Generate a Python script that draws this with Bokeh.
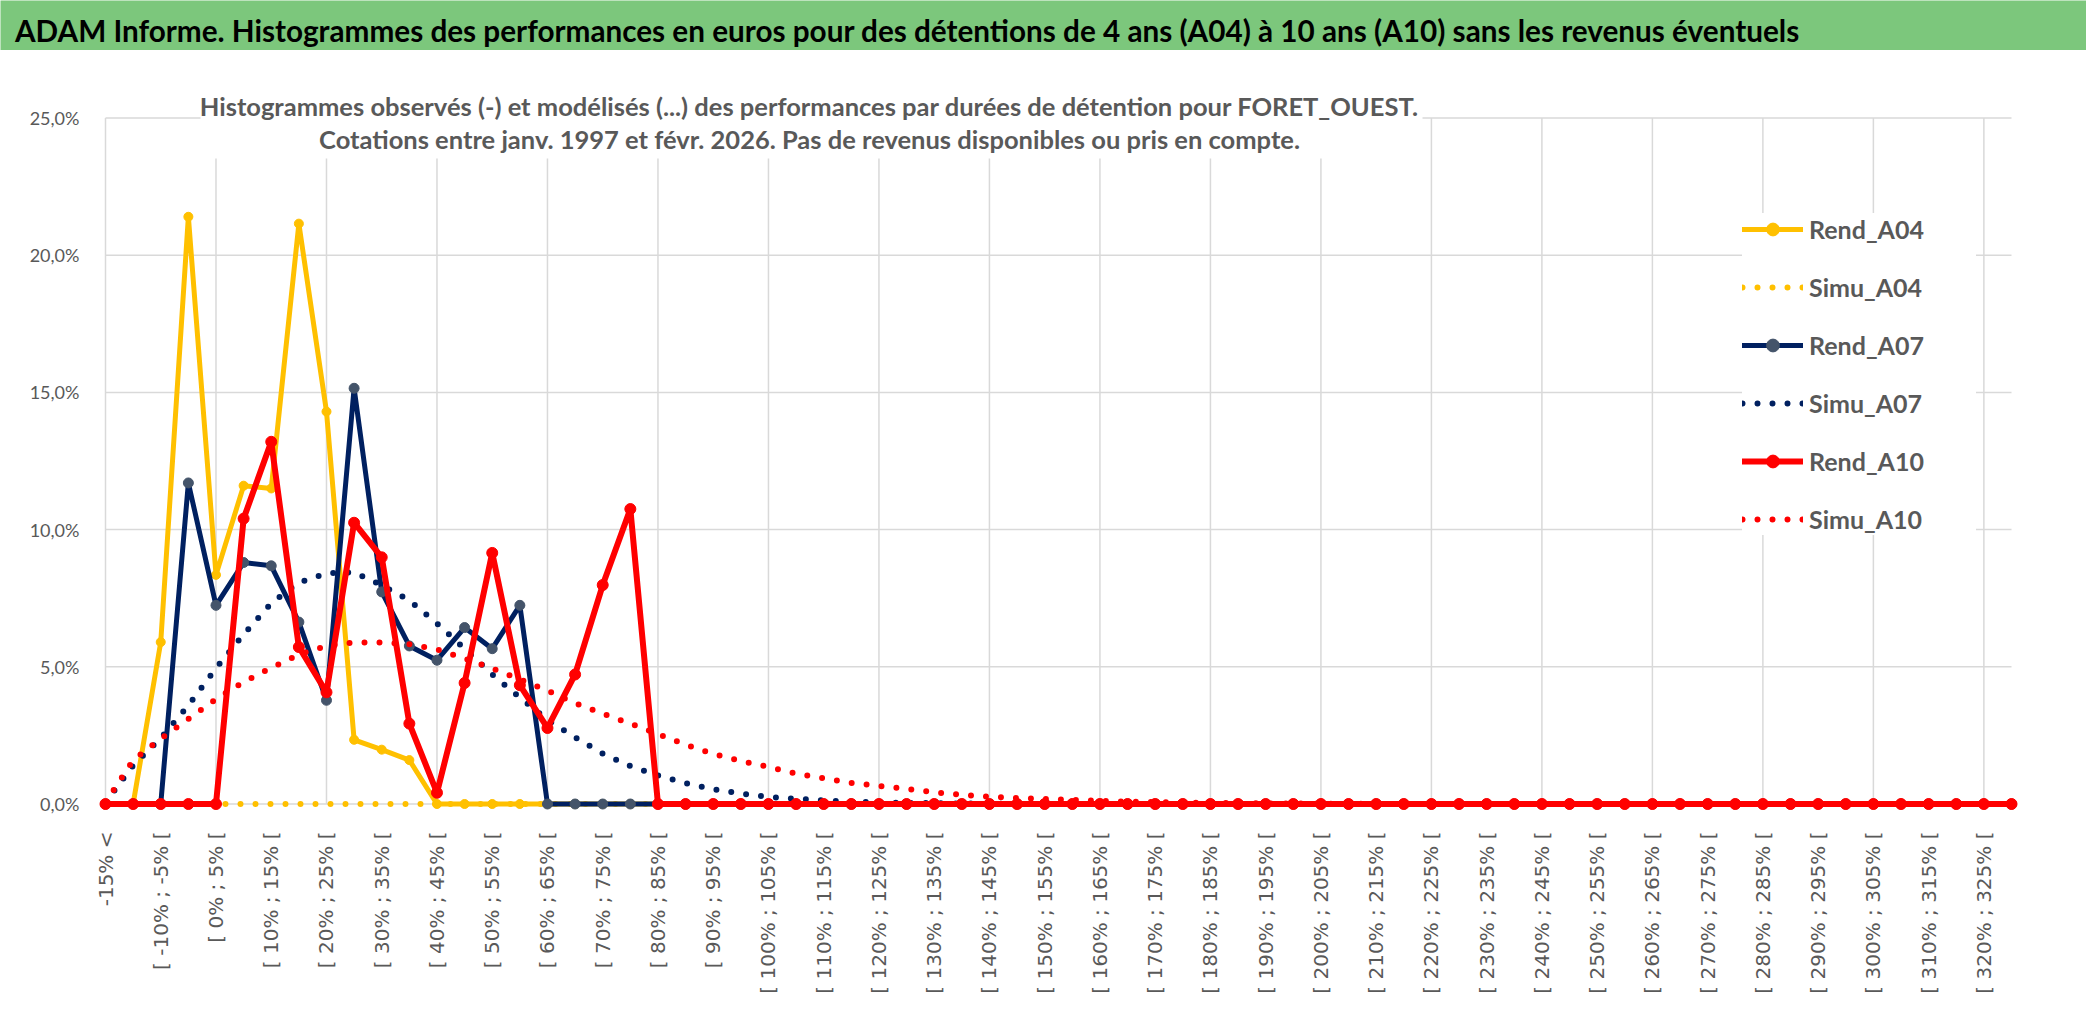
import math
from bokeh.plotting import figure
from bokeh.layouts import column
from bokeh.models import Range1d, FixedTicker, Label
from bokeh.embed import file_html
from bokeh.resources import INLINE

# ---------------- data ----------------
TITLE = ("ADAM Informe. Histogrammes des performances en euros pour des détentions "
         "de 4 ans (A04) à 10 ans (A10) sans les revenus éventuels")
SUB1 = ("Histogrammes observés (-) et modélisés (...) des performances par durées "
        "de détention pour FORET_OUEST.")
SUB2 = "Cotations entre janv. 1997 et févr. 2026. Pas de revenus disponibles ou pris en compte."

categories = ["-15% <"] + [f"[ {5 * (k - 4)}% ; {5 * (k - 3)}% [" for k in range(1, 70)]

y_ticks = [0, 5, 10, 15, 20, 25]
y_tick_labels = ["0,0%", "5,0%", "10,0%", "15,0%", "20,0%", "25,0%"]

rend_a04 = [0.0, 0.0, 5.9, 21.4, 8.35, 11.6, 11.5, 21.15, 14.3, 2.34,
            1.98, 1.6, 0.0, 0.0, 0.0, 0.0, 0.0, 0.0, 0.0, 0.0,
            0.0, 0.0, 0.0, 0.0, 0.0, 0.0, 0.0, 0.0, 0.0, 0.0,
            0.0, 0.0, 0.0, 0.0, 0.0, 0.0, 0.0, 0.0, 0.0, 0.0,
            0.0, 0.0, 0.0, 0.0, 0.0, 0.0, 0.0, 0.0, 0.0, 0.0,
            0.0, 0.0, 0.0, 0.0, 0.0, 0.0, 0.0, 0.0, 0.0, 0.0,
            0.0, 0.0, 0.0, 0.0, 0.0, 0.0, 0.0, 0.0, 0.0, 0.0]

simu_a04 = [0.0, 0.0, 0.0, 0.0, 0.0, 0.0, 0.0, 0.0, 0.0, 0.0,
            0.0, 0.0, 0.0, 0.0, 0.0, 0.0, 0.0, 0.0, 0.0, 0.0,
            0.0, 0.0, 0.0, 0.0, 0.0, 0.0, 0.0, 0.0, 0.0, 0.0,
            0.0, 0.0, 0.0, 0.0, 0.0, 0.0, 0.0, 0.0, 0.0, 0.0,
            0.0, 0.0, 0.0, 0.0, 0.0, 0.0, 0.0, 0.0, 0.0, 0.0,
            0.0, 0.0, 0.0, 0.0, 0.0, 0.0, 0.0, 0.0, 0.0, 0.0,
            0.0, 0.0, 0.0, 0.0, 0.0, 0.0, 0.0, 0.0, 0.0, 0.0]

rend_a07 = [0.0, 0.0, 0.0, 11.7, 7.24, 8.8, 8.68, 6.63, 3.78, 15.15,
            7.73, 5.76, 5.24, 6.43, 5.66, 7.24, 0.0, 0.0, 0.0, 0.0,
            0.0, 0.0, 0.0, 0.0, 0.0, 0.0, 0.0, 0.0, 0.0, 0.0,
            0.0, 0.0, 0.0, 0.0, 0.0, 0.0, 0.0, 0.0, 0.0, 0.0,
            0.0, 0.0, 0.0, 0.0, 0.0, 0.0, 0.0, 0.0, 0.0, 0.0,
            0.0, 0.0, 0.0, 0.0, 0.0, 0.0, 0.0, 0.0, 0.0, 0.0,
            0.0, 0.0, 0.0, 0.0, 0.0, 0.0, 0.0, 0.0, 0.0, 0.0]

simu_a07 = [0.05, 1.4, 2.4, 3.59, 4.95, 6.18, 7.32, 8.07, 8.41, 8.44,
            7.97, 7.42, 6.58, 5.66, 4.72, 3.88, 3.07, 2.43, 1.84, 1.38,
            1.04, 0.76, 0.54, 0.38, 0.26, 0.19, 0.13, 0.09, 0.06, 0.04,
            0.03, 0.02, 0.01, 0.01, 0.0, 0.0, 0.0, 0.0, 0.0, 0.0,
            0.0, 0.0, 0.0, 0.0, 0.0, 0.0, 0.0, 0.0, 0.0, 0.0,
            0.0, 0.0, 0.0, 0.0, 0.0, 0.0, 0.0, 0.0, 0.0, 0.0,
            0.0, 0.0, 0.0, 0.0, 0.0, 0.0, 0.0, 0.0, 0.0, 0.0]

rend_a10 = [0.0, 0.0, 0.0, 0.0, 0.0, 10.4, 13.2, 5.72, 4.07, 10.25,
            8.99, 2.93, 0.41, 4.41, 9.15, 4.33, 2.77, 4.72, 7.98, 10.75,
            0.0, 0.0, 0.0, 0.0, 0.0, 0.0, 0.0, 0.0, 0.0, 0.0,
            0.0, 0.0, 0.0, 0.0, 0.0, 0.0, 0.0, 0.0, 0.0, 0.0,
            0.0, 0.0, 0.0, 0.0, 0.0, 0.0, 0.0, 0.0, 0.0, 0.0,
            0.0, 0.0, 0.0, 0.0, 0.0, 0.0, 0.0, 0.0, 0.0, 0.0,
            0.0, 0.0, 0.0, 0.0, 0.0, 0.0, 0.0, 0.0, 0.0, 0.0]

simu_a10 = [0.05, 1.6, 2.38, 3.1, 3.82, 4.45, 4.96, 5.45, 5.76, 5.89,
            5.89, 5.82, 5.63, 5.3, 4.94, 4.54, 4.13, 3.68, 3.29, 2.93,
            2.55, 2.16, 1.83, 1.57, 1.35, 1.11, 0.94, 0.77, 0.66, 0.55,
            0.43, 0.33, 0.27, 0.22, 0.18, 0.15, 0.11, 0.09, 0.07, 0.05,
            0.04, 0.03, 0.02, 0.02, 0.01, 0.01, 0.0, 0.0, 0.0, 0.0,
            0.0, 0.0, 0.0, 0.0, 0.0, 0.0, 0.0, 0.0, 0.0, 0.0,
            0.0, 0.0, 0.0, 0.0, 0.0, 0.0, 0.0, 0.0, 0.0, 0.0]

x_idx = list(range(len(categories)))

# ---------------- styles ----------------
GREEN = "#7CC77C"
YELLOW = "#FFC000"
NAVY = "#002060"
NAVY_MK = "#44546A"
RED = "#FF0000"
GRID = "#D9D9D9"
TXT = "#595959"

W = 2086
H_TITLE = 50
H_MAIN = 979
FL = 88         # frame left (px)
FR = 2028       # frame right (px)

# ---------------- title band ----------------
tfig = figure(width=W, height=H_TITLE, title=None,
              toolbar_location=None, output_backend="svg",
              x_axis_location=None, y_axis_location=None,
              outline_line_color=None, background_fill_color=GREEN, border_fill_color=GREEN)
tfig.xgrid.visible = False
tfig.ygrid.visible = False

# ---------------- main chart ----------------
u = 1906 / 69   # px per category
v = 686 / 25    # px per percent
n = len(categories)

p = figure(width=W, height=H_MAIN, title=None,
           x_range=Range1d(-17 / u, (n - 1) + 17 / u),
           y_range=Range1d(-11.5 / v, 25 + 47.5 / v),
           toolbar_location=None, output_backend="svg",
           min_border_left=FL, min_border_right=W - FR, min_border_top=20,
           min_border_bottom=H_MAIN - 765,
           outline_line_color=None, background_fill_color="white", border_fill_color="white")
p.xgrid.visible = False
p.ygrid.visible = False

# try to keep the title band's frame independent from the chart's frame
independent = True
try:
    tfig.frame_align = False
    p.frame_align = False
except Exception:
    independent = False

if independent:
    tfig.min_border = 0
    tfig.min_border_left = 0
    tfig.min_border_right = 0
    tfig.min_border_top = 0
    tfig.min_border_bottom = 0
    tfig.x_range = Range1d(0, W)
    title_x = 14.5
else:
    tfig.min_border_left = FL
    tfig.min_border_right = W - FR
    tfig.min_border_top = 0
    tfig.min_border_bottom = 0
    tfig.x_range = Range1d(FL, FR)
    title_x = FL + 2
tfig.y_range = Range1d(0, H_TITLE)
tfig.add_layout(Label(x=title_x, y=20.5, text=TITLE, text_font="Lato", text_font_style="bold",
                      text_font_size="29.7px", text_color="black", text_baseline="middle"))

# grid lines (vertical every 4 categories, horizontal on y ticks)
vx = x_idx[::4]
p.segment(x0=vx, y0=[0] * len(vx), x1=vx, y1=[max(y_ticks)] * len(vx),
          line_color=GRID, line_width=1.5)
p.segment(x0=[0] * len(y_ticks), y0=y_ticks, x1=[n - 1] * len(y_ticks), y1=y_ticks,
          line_color=GRID, line_width=1.5)

# white box behind the inner title
p.quad(left=[(200 - 105) / u], right=[(1422 - 105) / u], bottom=[(803.5 - 158) / v], top=[30],
       fill_color="white", line_color=None)

DOT = "0 15"
series = [
    ("Rend_A04", rend_a04, YELLOW, 5, None, YELLOW, 9),
    ("Simu_A04", simu_a04, YELLOW, 6, DOT, None, None),
    ("Rend_A07", rend_a07, NAVY, 5, None, NAVY_MK, 10),
    ("Simu_A07", simu_a07, NAVY, 6, DOT, None, None),
    ("Rend_A10", rend_a10, RED, 6, None, RED, 11),
    ("Simu_A10", simu_a10, RED, 6, DOT, None, None),
]
for name, ys, col, lw, dash, mcol, msize in series:
    if dash is None:
        p.line(x_idx, ys, line_color=col, line_width=lw, line_join="round", line_cap="round",
               legend_label=name)
        p.scatter(x_idx, ys, marker="circle", size=msize, fill_color=mcol, line_color=mcol,
                  legend_label=name)
    else:
        p.line(x_idx, ys, line_color=col, line_width=lw, line_dash=dash, line_cap="round",
               line_join="round", legend_label=name)

# inner title
p.add_layout(Label(x=(809 - 105) / u, y=(803.5 - 105) / v, text=SUB1, text_font="Lato",
                   text_font_style="bold", text_font_size="25.5px", text_color=TXT,
                   text_align="center", text_baseline="alphabetic"))
p.add_layout(Label(x=(809 - 105) / u, y=(803.5 - 138) / v, text=SUB2, text_font="Lato",
                   text_font_style="bold", text_font_size="25.5px", text_color=TXT,
                   text_align="center", text_baseline="alphabetic"))

# axes
p.xaxis.ticker = FixedTicker(ticks=x_idx[::2])
p.xaxis.major_label_overrides = {i: categories[i] for i in x_idx[::2]}
p.xaxis.major_label_orientation = math.pi / 2
p.xaxis.major_label_text_font = "DejaVu Sans"
p.xaxis.major_label_text_font_size = "20px"
p.xaxis.major_label_text_color = TXT
p.xaxis.major_label_standoff = 10
p.xaxis.axis_line_color = None
p.xaxis.major_tick_line_color = None
p.xaxis.minor_tick_line_color = None

p.yaxis.ticker = FixedTicker(ticks=y_ticks)
p.yaxis.major_label_overrides = dict(zip(y_ticks, y_tick_labels))
p.yaxis.major_label_text_font = "Lato"
p.yaxis.major_label_text_font_size = "18px"
p.yaxis.major_label_text_color = TXT
p.yaxis.major_label_standoff = 3
p.yaxis.axis_line_color = None
p.yaxis.major_tick_line_color = None
p.yaxis.minor_tick_line_color = None

# legend
lg = p.legend[0]
lg.location = (1742 - FL, 280)
lg.margin = 0
lg.padding = 12
lg.spacing = 26
lg.glyph_width = 61
lg.glyph_height = 32
lg.label_height = 32
lg.label_width = 167
lg.label_standoff = 6
lg.label_text_font = "Lato"
lg.label_text_font_style = "bold"
lg.label_text_font_size = "25px"
lg.label_text_color = TXT
lg.background_fill_color = "white"
lg.background_fill_alpha = 1.0
lg.border_line_color = None

layout = column(tfig, p)
open("out.html", "w").write(file_html(layout, INLINE))
